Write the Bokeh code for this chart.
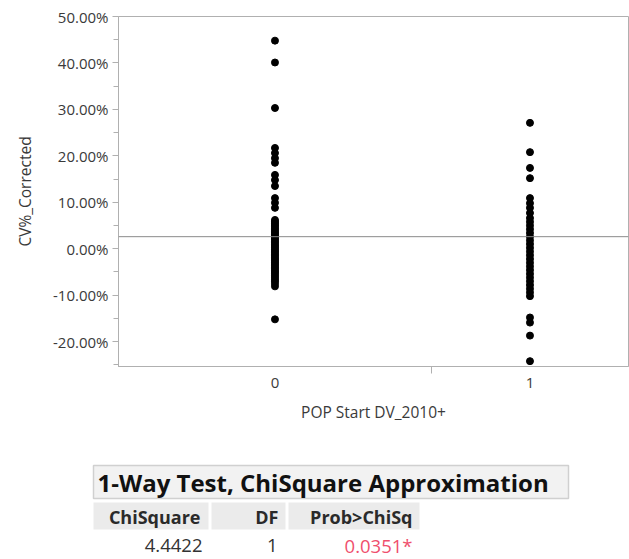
from bokeh.plotting import figure
from bokeh.layouts import column
from bokeh.models import Range1d, FixedTicker, PrintfTickFormatter, CustomJSTickFormatter, Span
from bokeh.core.properties import value
from bokeh.embed import file_html
from bokeh.resources import INLINE

# CV%_Corrected values (in percent) for each level of POP Start DV_2010+
groups = ["0", "1"]
cv_group0 = [44.8, 40.1, 30.3, 21.7, 20.6, 19.5, 18.5, 15.9, 14.8, 13.5,
             10.9, 9.9, 8.8,
             6.2, 5.8, 5.5, 5.1, 4.8, 4.4, 4.1, 3.7, 3.4, 3.0, 2.7, 2.3,
             2.0, 1.6, 1.3, 0.9, 0.6, 0.2, -0.1, -0.5, -0.8, -1.2, -1.5,
             -1.9, -2.2, -2.6, -2.9, -3.3, -3.6, -4.0, -4.3, -4.7, -5.0,
             -5.4, -5.8, -6.2, -6.6, -7.0, -7.5, -8.1,
             -15.2]
cv_group1 = [27.1, 20.8, 17.4, 15.2, 10.9, 9.8, 8.8, 7.7,
             6.6, 5.8, 5.0, 4.2, 3.4, 2.6, 1.8, 1.0, 0.2, -0.6, -1.4,
             -2.2, -3.0, -3.8, -4.6, -5.4, -6.2, -7.0, -7.8, -8.6, -9.4,
             -10.2,
             -14.8, -15.9, -18.7, -24.2]
grand_mean = 2.6

y_ticks = [-20, -10, 0, 10, 20, 30, 40, 50]
y_minor_ticks = [-25, -15, -5, 5, 15, 25, 35, 45]

test_title = "1-Way Test, ChiSquare Approximation"
test_headers = ["ChiSquare", "DF", "Prob>ChiSq"]
test_values = ["4.4422", "1", "0.0351*"]
test_value_colors = ["#333333", "#333333", "#ef4f6d"]

FONT = "Open Sans"
AXIS_GREY = "#b0b0b0"
TEXT_GREY = "#3a3a3a"

# Each group gets a slice of the x axis proportional to its size
n0, n1 = len(cv_group0), len(cv_group1)
boundary = n0 / (n0 + n1)
centers = [boundary / 2, (1 + boundary) / 2]

p = figure(width=629, height=425, output_backend="svg", toolbar_location=None,
           x_range=Range1d(0, 1), y_range=Range1d(-25.35, 50.0),
           min_border_left=118, min_border_right=1, min_border_top=16,
           min_border_bottom=58)
p.xgrid.visible = False
p.ygrid.visible = False
p.outline_line_color = AXIS_GREY
p.background_fill_color = "white"
p.border_fill_color = "white"

p.scatter(x=[centers[0]] * n0, y=cv_group0, size=7, color="black")
p.scatter(x=[centers[1]] * n1, y=cv_group1, size=7, color="black")
p.add_layout(Span(location=grand_mean, dimension="width",
                  line_color="#8a8a8a", line_width=1))

# y axis
ya = p.yaxis[0]
ya.ticker = FixedTicker(ticks=y_ticks, minor_ticks=y_minor_ticks)
ya.formatter = PrintfTickFormatter(format="%.2f%%")
ya.axis_label = "CV%_Corrected"
ya.axis_line_color = AXIS_GREY
ya.major_tick_line_color = AXIS_GREY
ya.minor_tick_line_color = AXIS_GREY
ya.major_tick_out = 6
ya.major_tick_in = 0
ya.minor_tick_out = 5
ya.minor_tick_in = 0
ya.major_label_standoff = 4
ya.major_label_text_font = FONT
ya.major_label_text_font_size = "15px"
ya.major_label_text_color = TEXT_GREY
ya.axis_label_text_font = FONT
ya.axis_label_text_font_size = "15.5px"
ya.axis_label_text_font_style = "normal"
ya.axis_label_text_color = TEXT_GREY
ya.axis_label_standoff = 14

# x axis: labels at group centres, tick at group boundary
xa = p.xaxis[0]
xa.ticker = FixedTicker(ticks=centers, minor_ticks=[boundary])
xa.formatter = CustomJSTickFormatter(args=dict(names=groups), code="return names[index];")
xa.axis_label = "POP Start DV_2010+"
xa.axis_line_color = AXIS_GREY
xa.major_tick_line_color = None
xa.minor_tick_line_color = AXIS_GREY
xa.major_tick_out = 0
xa.major_tick_in = 0
xa.minor_tick_out = 7
xa.minor_tick_in = 0
xa.major_label_standoff = 4
xa.major_label_text_font = FONT
xa.major_label_text_font_size = "15px"
xa.major_label_text_color = TEXT_GREY
xa.axis_label_text_font = FONT
xa.axis_label_text_font_size = "15.5px"
xa.axis_label_text_font_style = "normal"
xa.axis_label_text_color = TEXT_GREY
xa.axis_label_standoff = 10

# Test report table below the plot
t = figure(width=629, height=134, output_backend="svg", toolbar_location=None,
           x_range=Range1d(0, 629), y_range=Range1d(134, 0),
           x_axis_type=None, y_axis_type=None, min_border=0)
t.frame_align = False
t.xgrid.visible = False
t.ygrid.visible = False
t.outline_line_color = None
t.background_fill_color = "white"
t.border_fill_color = "white"

t.quad(left=[93], right=[568], top=[40], bottom=[73],
       fill_color="#f2f2f2", line_color="#d0d0d0", line_width=1.5)
t.text(x=[97], y=[57], text=[test_title], text_font=value(FONT),
       text_font_style="bold", text_font_size="24px", text_color="#111111",
       text_baseline="middle", text_align="left")

cell_left = [93, 211, 288]
cell_right = [208, 285, 419]
text_right = [200, 278, 412]
t.quad(left=cell_left, right=cell_right, top=[77] * 3, bottom=[104] * 3,
       fill_color="#ebebeb", line_color=None)
t.text(x=text_right, y=[91] * 3, text=test_headers, text_font=value(FONT),
       text_font_style="bold", text_font_size="18px", text_color="#2a2a2a",
       text_baseline="middle", text_align="right")
t.text(x=[202, 277, 412], y=[120] * 3, text=test_values, text_font=value(FONT),
       text_font_size="18.5px", text_color=test_value_colors,
       text_baseline="middle", text_align="right")

layout = column(p, t, spacing=0)
open("out.html", "w").write(file_html(layout, INLINE))
